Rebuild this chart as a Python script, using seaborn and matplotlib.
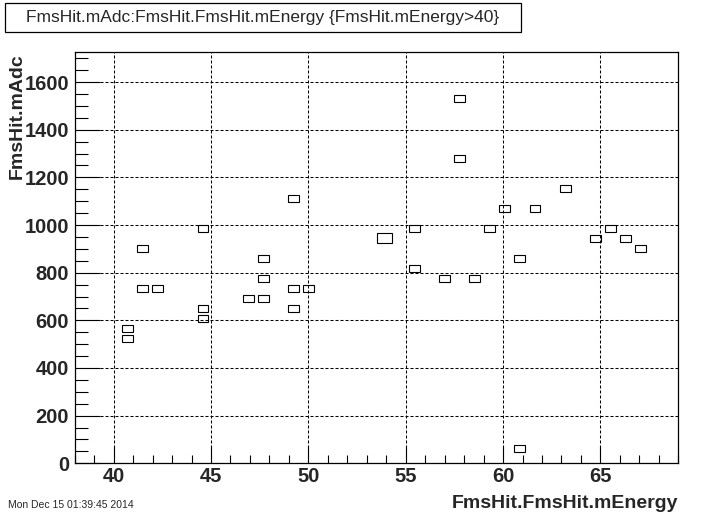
import matplotlib
matplotlib.use("Agg")
import matplotlib.pyplot as plt
from matplotlib.patches import Rectangle
from matplotlib.ticker import MultipleLocator
import numpy as np
import pandas as pd
import seaborn as sns

# ---------------------------------------------------------------------------
# data (bin centres of the 2D histogram, box option)
# ---------------------------------------------------------------------------
energy = [40.71, 40.71, 41.49, 41.49, 42.26, 44.59, 44.59, 44.59, 46.91,
          47.69, 47.69, 47.69, 49.24, 49.24, 49.24, 50.01, 53.89, 55.44,
          55.44, 56.99, 57.76, 57.76, 58.54, 59.31, 60.09, 60.86, 60.86,
          61.64, 63.19, 64.74, 65.51, 66.29, 67.06]
adc = [567, 525, 903, 735, 735, 987, 651, 609, 693,
       861, 777, 693, 1113, 735, 651, 735, 945, 987,
       819, 777, 1533, 1281, 777, 987, 1071, 861, 63,
       1071, 1155, 945, 987, 945, 903]
counts = [1, 1, 1, 1, 1, 1, 1, 1, 1,
          1, 1, 1, 1, 1, 1, 1, 2, 1,
          1, 1, 1, 1, 1, 1, 1, 1, 1,
          1, 1, 1, 1, 1, 1]

x_range = (38, 69)
y_range = (0, 1725)
bin_w = 31 / 40
bin_h = 42.0

title = "FmsHit.mAdc:FmsHit.FmsHit.mEnergy {FmsHit.mEnergy>40}"
x_title = "FmsHit.FmsHit.mEnergy"
y_title = "FmsHit.mAdc"
stamp = "Mon Dec 15 01:39:45 2014"

df = pd.DataFrame({"energy": energy, "adc": adc, "n": counts})
scale = np.sqrt(df["n"] / df["n"].max())
df["w"] = bin_w * scale
df["h"] = bin_h * scale

# ---------------------------------------------------------------------------
# style
# ---------------------------------------------------------------------------
sns.set_style("white", {"axes.edgecolor": "black", "xtick.bottom": True,
                        "ytick.left": True, "xtick.direction": "in",
                        "ytick.direction": "in"})
plt.rcParams["font.family"] = ["Liberation Sans", "DejaVu Sans"]

fig = plt.figure(figsize=(7.11, 5.14), dpi=100)
ax = fig.add_axes([74.7 / 711, 1 - 463.3 / 514, (678.3 - 74.7) / 711,
                   (463.3 - 52.3) / 514])

ax.bar(df["energy"], df["h"], width=df["w"], bottom=df["adc"] - df["h"] / 2,
       fill=False, edgecolor="black", linewidth=0.8)

ax.set_xlim(*x_range)
ax.set_ylim(*y_range)
ax.xaxis.set_major_locator(MultipleLocator(5))
ax.xaxis.set_minor_locator(MultipleLocator(1))
ax.yaxis.set_major_locator(MultipleLocator(200))
ax.yaxis.set_minor_locator(MultipleLocator(50))
ax.tick_params(which="major", axis="x", length=12, width=0.8, color="black",
               pad=3, labelsize=14.5)
ax.tick_params(which="minor", axis="x", length=6, width=0.8, color="black")
ax.tick_params(which="major", axis="y", length=18, width=0.8, color="black",
               pad=4, labelsize=14.5)
ax.tick_params(which="minor", axis="y", length=9, width=0.8, color="black")
for lab in ax.get_xticklabels() + ax.get_yticklabels():
    lab.set_fontweight("bold")

ax.grid(True, which="major", color="black", linestyle=(0, (2.9, 1.9)),
        linewidth=0.75)
for sp in ax.spines.values():
    sp.set_linewidth(0.9)

fig.text(678 / 711, 1 - 503 / 514, x_title, ha="right", va="center",
         fontsize=14, fontweight="bold")
# y title sits just left of the tick labels (reference lets them touch)
fig.text(17 / 711, 1 - 53 / 514, y_title, ha="center", va="top",
         rotation=90, fontsize=14, fontweight="bold")
fig.text(8 / 711, 1 - 505 / 514, stamp, ha="left", va="center", fontsize=7.5)

# title box
fig.patches.append(Rectangle((5 / 711, 1 - 32 / 514), 516 / 711, 29 / 514,
                             transform=fig.transFigure, fill=True,
                             facecolor="white", edgecolor="black",
                             linewidth=0.9))
fig.text(263 / 711, 1 - 17.5 / 514, title, ha="center", va="center",
         fontsize=12.5)

fig.savefig("out.png", dpi=100)
